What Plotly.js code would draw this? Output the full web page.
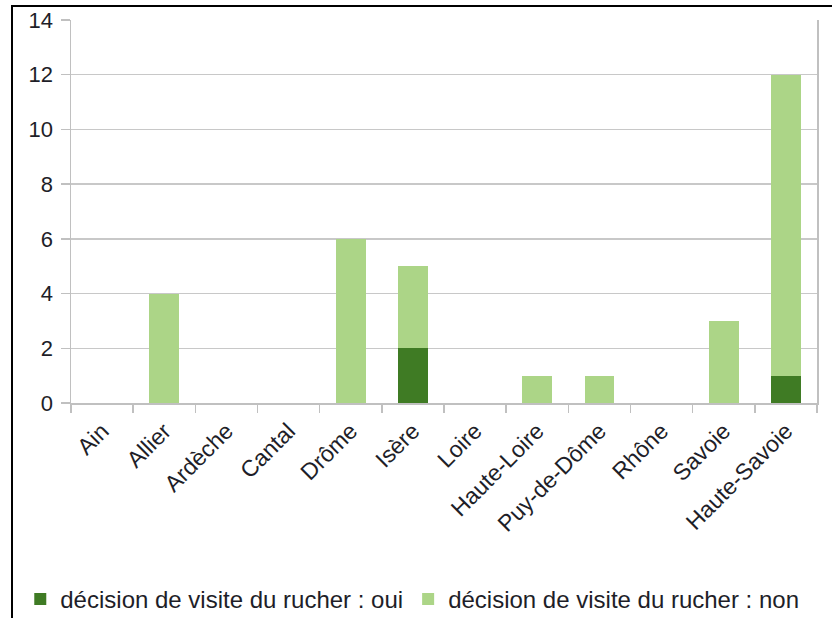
<!DOCTYPE html>
<html>
<head>
<meta charset="utf-8">
<script src="https://cdn.plot.ly/plotly-3.0.1.min.js"></script>
<style>
html,body{margin:0;padding:0;background:#fff;}
#wrap{position:relative;width:832px;height:618px;overflow:hidden;}
#chart{position:absolute;left:0;top:0;width:832px;height:618px;}
#frame{position:absolute;left:11px;top:5px;width:900px;height:700px;border-left:2px solid #000;border-top:2px solid #000;pointer-events:none;}
</style>
</head>
<body>
<div id="wrap"><div id="chart"></div><div id="frame"></div></div>
<script>
const departements = ["Ain","Allier","Ardèche","Cantal","Drôme","Isère","Loire","Haute-Loire","Puy-de-Dôme","Rhône","Savoie","Haute-Savoie"];
const visiteOui = [0,0,0,0,0,2,0,0,0,0,0,1];
const visiteNon = [0,4,0,0,6,3,0,1,1,0,3,11];
const yTicks = [0,2,4,6,8,10,12,14];

const traces = [
  {type:'bar', name:'décision de visite du rucher : oui', x:departements, y:visiteOui,
   marker:{color:'#3f7b24'}},
  {type:'bar', name:'décision de visite du rucher : non', x:departements, y:visiteNon,
   marker:{color:'#acd587'}}
];

const layout = {
  width:832, height:618,
  margin:{l:71, r:15, t:20, b:215, autoexpand:false},
  barmode:'stack',
  bargap:0.52,
  paper_bgcolor:'#fff', plot_bgcolor:'#fff',
  font:{family:'Liberation Sans, Arial, sans-serif', size:22, color:'#1e1e28'},
  showlegend:true,
  legend:{orientation:'h', x:-0.068, xanchor:'left', y:-0.513, yanchor:'middle',
          font:{size:24}, traceorder:'normal', itemwidth:30, tracegroupgap:0},
  xaxis:{type:'category', tickangle:-45, showgrid:false, showline:true, linecolor:'#c0c0c0', linewidth:1.5,
         ticks:'outside', tickson:'boundaries', ticklen:8, tickcolor:'#c0c0c0', tickwidth:1.5,
         tickfont:{size:23}, ticklabelstandoff:4, automargin:false,
         zeroline:false, fixedrange:true},
  yaxis:{range:[0,14], tickvals:yTicks, ticktext:yTicks.map(String), showgrid:true, gridcolor:'#c8c8c8', gridwidth:1.5,
         showline:true, linecolor:'#c0c0c0', linewidth:1.5, mirror:true, automargin:false,
         ticks:'outside', ticklen:9, tickcolor:'#c0c0c0', tickwidth:1.5, zeroline:false, fixedrange:true,
         tickfont:{size:22}, ticklabelstandoff:3}
};

Plotly.newPlot('chart', traces, layout, {displayModeBar:false, staticPlot:true});
</script>
</body>
</html>
